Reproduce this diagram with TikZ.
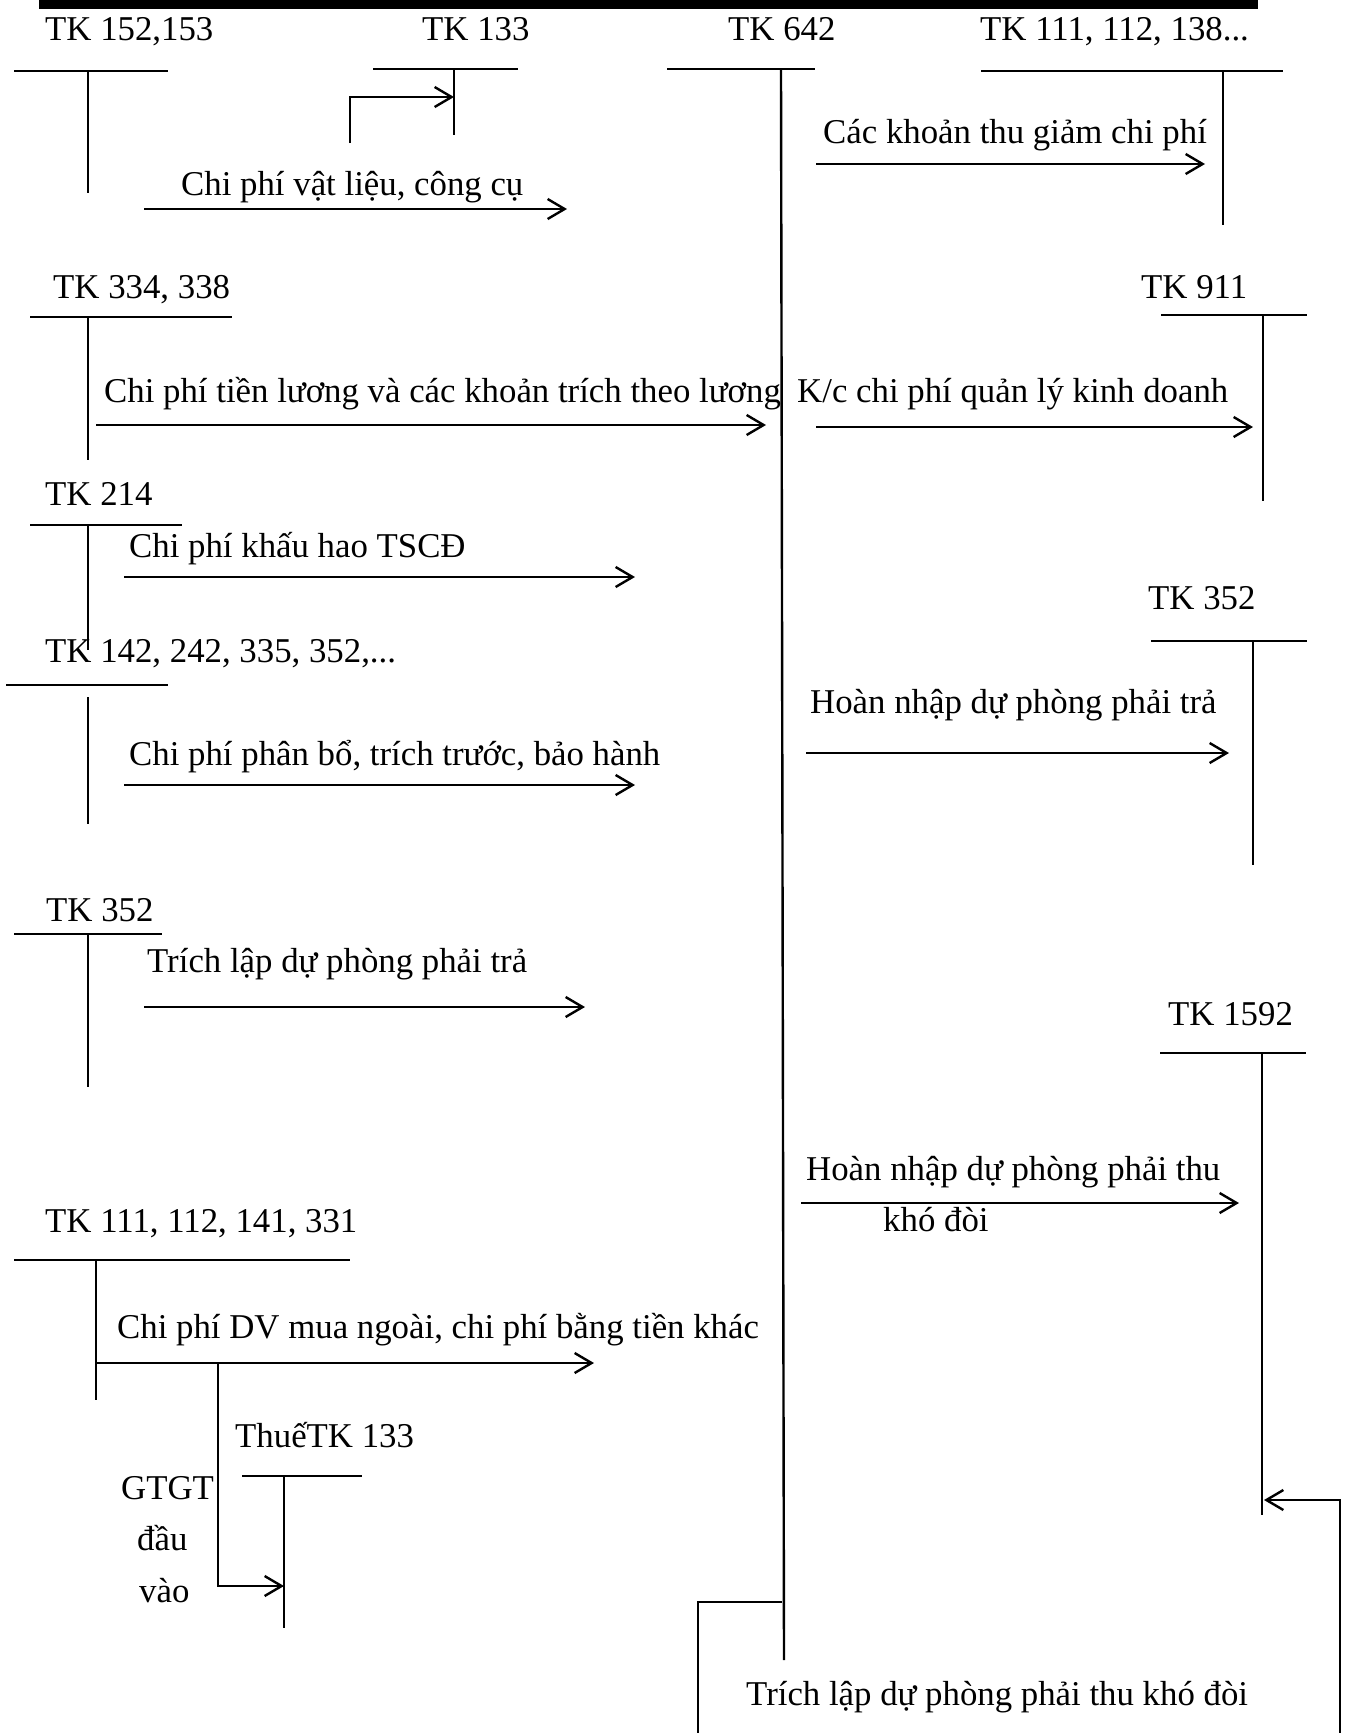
\documentclass[tikz,border=0pt]{standalone}
\usepackage{fontspec}
\setmainfont{Liberation Serif}
\usetikzlibrary{arrows.meta}

\begin{document}
\begin{tikzpicture}[x=1pt, y=-1pt,
  lbl/.style={anchor=base west, inner sep=0pt, font=\fontsize{34.8}{40}\selectfont},
  tk/.style={line width=2.4pt},
  flow/.style={line width=2.4pt, -{Straight Barb[length=17pt, width=20pt]}}]
\useasboundingbox (0,0) rectangle (1349,1733);

% Barra superior
\fill (39,0) rectangle (1258,9);

% Cuenta TK 152,153
\node[lbl] (t152) at (45,40) {TK 152,153};
\draw[tk] (14,71) -- (168,71);
\draw[tk] (88,71) -- (88,193);

% Cuenta TK 133 (arriba)
\node[lbl] (t133a) at (422,40) {TK 133};
\draw[tk] (373,69) -- (518,69);
\draw[tk] (454,69) -- (454,135);
\coordinate (g1) at (350,143);
\coordinate (g2) at (454,97);
\draw[flow] (g1) |- (g2);

% Cuenta TK 642 (central)
\node[lbl] (t642) at (728,40) {TK 642};
\coordinate (m1) at (781,69);
\coordinate (m2) at (784,1660);
\draw[tk] (667,69) -- (815,69);
\draw[tk] (m1) -- (m2);

% Cuenta TK 111, 112, 138...
\node[lbl] (t111a) at (980,40) {TK 111, 112, 138...};
\draw[tk] (981,71) -- (1283,71);
\draw[tk] (1223,71) -- (1223,225);

% Flecha: vat lieu
\coordinate (c1a) at (144,209);
\coordinate (c1b) at (567,209);
\node[lbl] (l1) at (181,195) {Chi phí vật liệu, công cụ};
\draw[flow] (c1a) -- (c1b);

% Flecha: thu giam chi phi
\coordinate (d1a) at (816,164);
\coordinate (d1b) at (1205,164);
\node[lbl] (r1) at (823,143) {Các khoản thu giảm chi phí};
\draw[flow] (d1a) -- (d1b);

% Cuenta TK 334, 338
\node[lbl] (t334) at (53,298) {TK 334, 338};
\draw[tk] (30,317) -- (232,317);
\draw[tk] (88,317) -- (88,460);
\coordinate (c2a) at (96,425);
\coordinate (c2b) at (766,425);
\node[lbl] (l2) at (104,402) {Chi phí tiền lương và các khoản trích theo lương};
\draw[flow] (c2a) -- (c2b);

% Cuenta TK 911
\node[lbl] (t911) at (1141,298) {TK 911};
\draw[tk] (1161,315) -- (1307,315);
\draw[tk] (1263,315) -- (1263,501);
\coordinate (d2a) at (816,427);
\coordinate (d2b) at (1253,427);
\node[lbl] (r2) at (797,402) {K/c chi phí quản lý kinh doanh};
\draw[flow] (d2a) -- (d2b);

% Cuenta TK 214
\node[lbl] (t214) at (45,505) {TK 214};
\draw[tk] (30,525) -- (182,525);
\draw[tk] (88,525) -- (88,650);
\coordinate (c3a) at (124,577);
\coordinate (c3b) at (635,577);
\node[lbl] (l3) at (129,557) {Chi phí khấu hao TSCĐ};
\draw[flow] (c3a) -- (c3b);

% Cuenta TK 142, 242, 335, 352
\node[lbl] (t142) at (45,662) {TK 142, 242, 335, 352,...};
\draw[tk] (6,685) -- (168,685);
\draw[tk] (88,697) -- (88,824);
\coordinate (c4a) at (124,785);
\coordinate (c4b) at (635,785);
\node[lbl] (l4) at (129,765) {Chi phí phân bổ, trích trước, bảo hành};
\draw[flow] (c4a) -- (c4b);

% Cuenta TK 352 (derecha)
\node[lbl] (t352b) at (1148,609) {TK 352};
\draw[tk] (1151,641) -- (1307,641);
\draw[tk] (1253,641) -- (1253,865);
\coordinate (d3a) at (806,753);
\coordinate (d3b) at (1229,753);
\node[lbl] (r3) at (810,713) {Hoàn nhập dự phòng phải trả};
\draw[flow] (d3a) -- (d3b);

% Cuenta TK 352 (izquierda)
\node[lbl] (t352a) at (46,921) {TK 352};
\draw[tk] (14,934) -- (162,934);
\draw[tk] (88,934) -- (88,1087);
\coordinate (c5a) at (144,1007);
\coordinate (c5b) at (585,1007);
\node[lbl] (l5) at (147,972) {Trích lập dự phòng phải trả};
\draw[flow] (c5a) -- (c5b);

% Cuenta TK 1592
\node[lbl] (t1592) at (1168,1025) {TK 1592};
\draw[tk] (1160,1053) -- (1306,1053);
\draw[tk] (1262,1053) -- (1262,1515);
\coordinate (d4a) at (801,1203);
\coordinate (d4b) at (1239,1203);
\node[lbl] (r4) at (806,1180) {Hoàn nhập dự phòng phải thu};
\node[lbl] (r4b) at (883,1231) {khó đòi};
\draw[flow] (d4a) -- (d4b);

% Cuenta TK 111, 112, 141, 331
\node[lbl] (t111b) at (45,1232) {TK 111, 112, 141, 331};
\draw[tk] (14,1260) -- (350,1260);
\draw[tk] (96,1260) -- (96,1400);
\coordinate (c6a) at (96,1363);
\coordinate (c6b) at (594,1363);
\node[lbl] (l6) at (117,1338) {Chi phí DV mua ngoài, chi phí bằng tiền khác};
\draw[flow] (c6a) -- (c6b);

% Cuenta TK 133 (abajo) y rama GTGT
\node[lbl] (t133b) at (235,1447) {ThuếTK 133};
\draw[tk] (242,1476) -- (362,1476);
\draw[tk] (284,1476) -- (284,1628);
\node[lbl] (v1) at (121,1499) {GTGT};
\node[lbl] (v2) at (137,1550) {đầu};
\node[lbl] (v3) at (139,1602) {vào};
\coordinate (h1) at (218,1363);
\coordinate (h2) at (284,1586);
\draw[flow] (h1) |- (h2);

% Trich lap du phong phai thu kho doi
\coordinate (b1) at (782,1602);
\coordinate (b2) at (698,1733);
\coordinate (b3) at (1340,1733);
\coordinate (b4) at (1264,1500);
\draw[tk] (b1) -| (b2);
\draw[flow] (b3) |- (b4);
\node[lbl] (l7) at (746,1705) {Trích lập dự phòng phải thu khó đòi};

\end{tikzpicture}
\end{document}
